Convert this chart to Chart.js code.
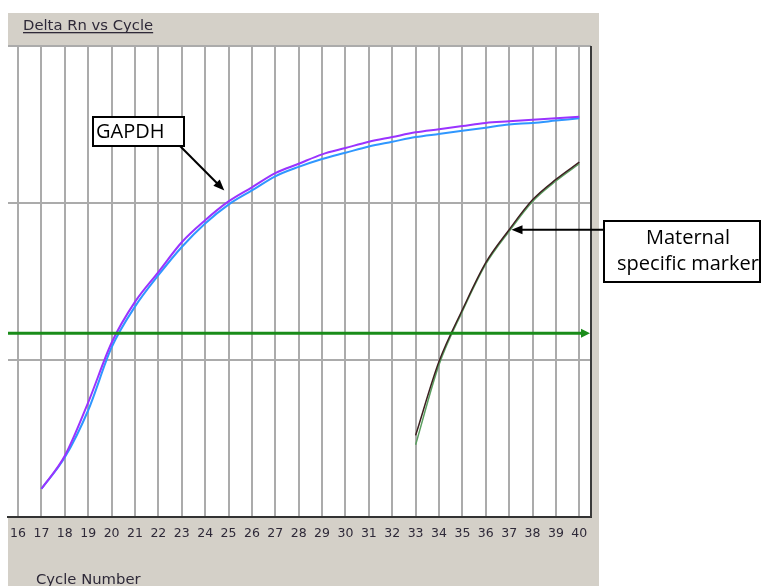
<!DOCTYPE html>
<html>
<head>
<meta charset="utf-8">
<title>Delta Rn vs Cycle</title>
<script src="https://cdn.jsdelivr.net/npm/chart.js@4.4.1/dist/chart.umd.min.js"></script>
<style>
  html, body { margin: 0; padding: 0; background: #fff; }
  canvas { display: block; }
</style>
</head>
<body>
<canvas id="amp" width="762" height="586"></canvas>
<script>
// DATA  (levels are in grid units: plot bottom = 0, grid lines at 1 and 2, plot top = 3)
const cycleTicks = [16, 17, 18, 19, 20, 21, 22, 23, 24, 25, 26, 27, 28, 29, 30, 31, 32, 33, 34, 35, 36, 37, 38, 39, 40];
const levelGrid = [0, 1, 2, 3];

const gapdhCycles = [17, 18, 19, 20, 21, 22, 23, 24, 25, 26, 27, 28, 29, 30, 31, 32, 33, 34, 35, 36, 37, 38, 39, 40];
const gapdhWellA = [0.18, 0.39, 0.73, 1.11, 1.37, 1.56, 1.75, 1.89, 2.01, 2.10, 2.19, 2.25, 2.31, 2.35, 2.39, 2.42, 2.45, 2.47, 2.49, 2.51, 2.52, 2.53, 2.54, 2.55];
const gapdhWellB = [0.18, 0.38, 0.68, 1.08, 1.34, 1.54, 1.72, 1.87, 1.99, 2.08, 2.17, 2.23, 2.28, 2.32, 2.36, 2.39, 2.42, 2.44, 2.46, 2.48, 2.50, 2.51, 2.525, 2.54];

const markerCycles = [33, 34, 35, 36, 37, 38, 39, 40];
const markerWellA = [0.52, 0.99, 1.32, 1.62, 1.83, 2.02, 2.15, 2.26];
const markerWellB = [0.46, 0.97, 1.31, 1.61, 1.82, 2.01, 2.14, 2.25];

const thresholdLevel = 1.17;
const thresholdCycles = [15.57, 40.2];

const xMin = 15.57, xMax = 40.5;

// callouts: label lines + the point each arrow touches
const gapdhCallout = { lines: ['GAPDH'], cycle: 24.82, level: 2.08 };
const markerCallout = { lines: ['Maternal', 'specific marker'], cycle: 37.1, level: 1.83 };

const pts = (xs, ys) => xs.map((x, i) => ({ x: x, y: ys[i] }));

function arrowHead(ctx, x0, y0, x1, y1, len, half) {
    const a = Math.atan2(y1 - y0, x1 - x0);
    ctx.beginPath();
    ctx.moveTo(x1, y1);
    ctx.lineTo(x1 - len * Math.cos(a) + half * Math.sin(a), y1 - len * Math.sin(a) - half * Math.cos(a));
    ctx.lineTo(x1 - len * Math.cos(a) - half * Math.sin(a), y1 - len * Math.sin(a) + half * Math.cos(a));
    ctx.closePath();
    ctx.fill();
}

// gray window panel behind the white plot
const panelPlugin = {
    id: 'panel',
    beforeDraw(chart) {
        const { ctx, chartArea: a } = chart;
        ctx.save();
        ctx.fillStyle = '#fff';
        ctx.fillRect(0, 0, chart.width, chart.height);
        ctx.fillStyle = '#d4d0c8';
        ctx.fillRect(8, 13, 591, chart.height - 13);
        ctx.fillStyle = '#fff';
        ctx.fillRect(a.left, a.top, a.right - a.left, a.bottom - a.top);

        ctx.fillStyle = '#2e2938';
        ctx.font = '14.8px "DejaVu Sans"';
        ctx.textBaseline = 'alphabetic';
        ctx.fillText('Delta Rn vs Cycle', 23, 30);
        const w = ctx.measureText('Delta Rn vs Cycle').width;
        ctx.fillRect(23, 32, w, 1.3);
        ctx.fillText('Cycle Number', 36, 584);
        ctx.restore();
    }
};

const overlayPlugin = {
    id: 'overlay',
    afterDatasetsDraw(chart) {
        const { ctx, chartArea: a, scales: { x, y } } = chart;
        ctx.save();
        // right frame
        ctx.strokeStyle = '#3a3a3a';
        ctx.lineWidth = 2;
        ctx.beginPath();
        ctx.moveTo(a.right, a.top);
        ctx.lineTo(a.right, a.bottom);
        ctx.stroke();

        // threshold arrow head
        const ty = y.getPixelForValue(thresholdLevel);
        const tx = x.getPixelForValue(thresholdCycles[1]);
        ctx.fillStyle = '#1a8c1a';
        arrowHead(ctx, tx - 10, ty, a.right - 1, ty, 9, 4.5);

        ctx.fillStyle = '#000';
        ctx.strokeStyle = '#000';
        ctx.font = '20px "Open Sans"';
        ctx.textBaseline = 'middle';

        // GAPDH callout
        ctx.lineWidth = 2;
        ctx.fillStyle = '#fff';
        ctx.fillRect(93, 117, 91, 29);
        ctx.strokeRect(93, 117, 91, 29);
        ctx.fillStyle = '#000';
        ctx.textAlign = 'left';
        ctx.fillText(gapdhCallout.lines[0], 96, 132);
        const gx = x.getPixelForValue(gapdhCallout.cycle), gy = y.getPixelForValue(gapdhCallout.level);
        ctx.beginPath();
        ctx.moveTo(180, 146);
        ctx.lineTo(gx - 4, gy - 4);
        ctx.stroke();
        arrowHead(ctx, 180, 146, gx, gy, 11, 4.5);

        // maternal marker callout
        ctx.fillStyle = '#fff';
        ctx.fillRect(604, 221, 156, 61);
        ctx.strokeRect(604, 221, 156, 61);
        ctx.fillStyle = '#000';
        ctx.textAlign = 'center';
        ctx.fillText(markerCallout.lines[0], 688, 238);
        ctx.fillText(markerCallout.lines[1], 688, 264);
        const mx = x.getPixelForValue(markerCallout.cycle), my = y.getPixelForValue(markerCallout.level);
        ctx.beginPath();
        ctx.moveTo(603, my);
        ctx.lineTo(mx + 6, my);
        ctx.stroke();
        arrowHead(ctx, 603, my, mx, my, 11, 4.5);
        ctx.restore();
    }
};

new Chart(document.getElementById('amp'), {
    type: 'line',
    data: {
        datasets: [
            { data: pts(thresholdCycles, [thresholdLevel, thresholdLevel]), borderColor: '#1a8c1a', borderWidth: 3, cubicInterpolationMode: 'default', tension: 0 },
            { data: pts(markerCycles, markerWellA), borderColor: '#3d2020', borderWidth: 1.5 },
            { data: pts(markerCycles, markerWellB), borderColor: '#5a9e60', borderWidth: 1.5 },
            { data: pts(gapdhCycles, gapdhWellA), borderColor: '#9a33ff', borderWidth: 2 },
            { data: pts(gapdhCycles, gapdhWellB), borderColor: '#2f97ff', borderWidth: 2 }
        ]
    },
    options: {
        responsive: false,
        animation: false,
        events: [],
        layout: { padding: { left: 8, top: 46, right: 171, bottom: 0 } },
        elements: { point: { radius: 0 }, line: { cubicInterpolationMode: 'monotone', fill: false } },
        plugins: { legend: { display: false }, tooltip: { enabled: false }, title: { display: false } },
        scales: {
            x: {
                type: 'linear',
                min: xMin,
                max: xMax,
                afterBuildTicks: s => { s.ticks = cycleTicks.map(v => ({ value: v })); },
                afterFit: s => { s.height = 69; },
                grid: { color: '#ababab', lineWidth: 2, drawTicks: false },
                border: { display: true, color: '#333', width: 2 },
                ticks: {
                    autoSkip: false,
                    maxRotation: 0,
                    padding: 9,
                    color: '#2e2938',
                    font: { family: 'DejaVu Sans', size: 12.5 },
                    callback: v => String(v)
                }
            },
            y: {
                min: 0,
                max: 3,
                afterBuildTicks: s => { s.ticks = levelGrid.map(v => ({ value: v })); },
                afterFit: s => { s.width = 0; },
                grid: { color: '#ababab', lineWidth: 2, drawTicks: false },
                border: { display: false },
                ticks: { display: false }
            }
        }
    },
    plugins: [panelPlugin, overlayPlugin]
});
</script>
</body>
</html>
